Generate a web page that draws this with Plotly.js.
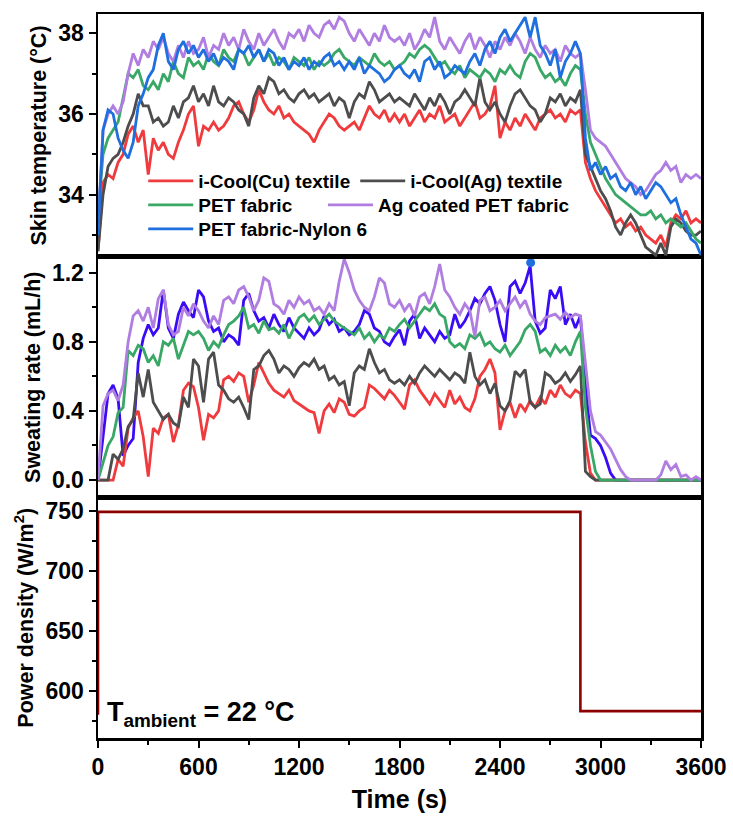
<!DOCTYPE html>
<html>
<head>
<meta charset="utf-8">
<script src="https://cdn.plot.ly/plotly-3.0.1.min.js"></script>
<style>html,body{margin:0;padding:0;background:#fff;}</style>
</head>
<body>
<div id="chart" style="width:733px;height:820px;"></div>
<script>
const TIME = [
0,30,60,90,120,150,180,210,240,270,
300,330,360,390,420,450,480,510,540,570,
600,630,660,690,720,750,780,810,840,870,
900,930,960,990,1020,1050,1080,1110,1140,1170,
1200,1230,1260,1290,1320,1350,1380,1410,1440,1470,
1500,1530,1560,1590,1620,1650,1680,1710,1740,1770,
1800,1830,1860,1890,1920,1950,1980,2010,2040,2070,
2100,2130,2160,2190,2220,2250,2280,2310,2340,2370,
2400,2430,2460,2490,2520,2550,2580,2610,2640,2670,
2700,2730,2760,2790,2820,2850,2880,2910,2940,2970,
3000,3030,3060,3090,3120,3150,3180,3210,3240,3270,
3300,3330,3360,3390,3420,3450,3480,3510,3540,3570,
3600];

const SERIES_NAMES = ['i-Cool(Cu) textile','i-Cool(Ag) textile','PET fabric','Ag coated PET fabric','PET fabric-Nylon 6'];

// Skin temperature (°C)
const SKIN_CU = [
32.6,34.3,34.5,34.4,34.8,35.0,35.5,35.7,35.3,35.6,
34.5,35.4,35.1,35.3,35.0,34.9,35.3,35.6,36.0,36.2,
35.2,35.7,35.6,35.8,35.6,35.7,35.9,36.2,36.3,36.0,
35.8,36.1,36.6,36.3,36.1,36.0,36.2,35.9,36.0,35.8,
35.7,35.6,35.5,35.3,35.6,35.8,36.0,35.9,35.7,35.6,
35.7,35.8,35.6,35.9,36.2,36.0,35.9,36.1,35.8,36.0,
35.8,36.0,35.7,35.9,36.1,35.8,36.0,35.9,36.2,35.8,
35.9,36.0,35.7,35.9,36.1,36.3,35.9,36.0,36.2,36.7,
35.4,35.8,35.6,35.9,35.7,36.0,35.8,35.6,35.9,36.0,
36.1,35.9,36.0,35.8,36.1,36.0,36.1,34.8,34.4,34.1,
33.9,33.7,33.5,33.3,33.4,33.2,33.3,33.1,33.2,33.0,
32.9,32.8,33.0,32.7,33.3,33.5,33.4,33.6,33.3,33.4,
33.3];
const SKIN_AG = [
32.6,34.0,34.7,34.9,35.0,35.3,35.7,36.0,36.5,36.2,
36.2,35.8,35.9,35.7,35.8,36.2,35.9,36.3,36.4,36.7,
36.3,36.5,36.2,36.7,36.3,36.2,36.4,36.3,36.1,36.0,
35.7,36.4,36.7,36.5,36.9,36.8,36.5,36.6,36.4,36.3,
36.5,36.6,36.4,36.5,36.3,36.4,36.5,36.2,36.4,36.3,
35.9,36.3,36.5,36.4,36.8,36.6,36.3,36.4,36.5,36.3,
36.4,36.3,36.2,36.5,36.3,36.1,36.4,36.2,36.5,36.3,
36.0,36.3,36.4,36.6,36.4,36.2,36.9,36.3,36.1,36.3,
36.0,35.8,36.2,36.5,36.6,36.4,36.2,36.1,35.8,36.0,
36.4,36.3,36.5,36.2,36.4,36.3,36.6,35.0,34.7,34.4,
34.1,33.9,33.6,33.2,33.0,33.3,33.5,33.3,33.0,32.7,
32.6,32.5,32.8,32.5,33.2,33.4,33.3,33.1,33.0,33.0,
33.1];
const SKIN_PET = [
33.5,35.0,35.4,35.6,35.8,36.4,37.0,36.9,37.1,36.7,
36.6,36.8,36.6,37.0,36.8,37.3,37.0,36.9,37.4,37.2,
37.3,37.1,37.5,37.3,37.2,37.6,37.4,37.3,37.6,37.5,
37.2,37.4,37.6,37.3,37.5,37.2,37.4,37.3,37.1,37.4,
37.3,37.2,37.4,37.1,37.3,37.2,37.3,37.5,37.6,37.4,
37.3,37.2,37.4,37.3,37.2,37.5,37.3,37.2,37.3,37.1,
37.2,37.3,37.5,37.4,37.6,37.7,37.6,37.4,37.2,37.3,
37.1,37.0,37.2,36.9,37.1,37.0,36.9,37.1,37.0,36.8,
37.1,37.0,37.2,37.0,36.9,37.3,37.5,37.4,37.1,36.9,
37.0,36.8,36.9,36.7,37.0,37.2,37.1,36.0,35.3,35.0,
34.7,34.4,34.2,34.0,33.9,33.8,33.7,33.6,33.5,33.5,
33.6,33.4,33.5,33.3,33.4,33.3,33.2,33.3,33.1,32.9,
32.8];
const SKIN_AGPET = [
33.2,35.6,36.0,36.2,36.0,36.3,37.0,37.5,37.2,37.6,
37.4,37.8,37.6,37.9,37.5,37.3,37.7,37.4,37.8,37.5,
37.6,37.9,37.4,37.7,37.6,38.0,37.7,37.9,37.6,38.1,
37.8,37.6,38.0,37.7,37.9,38.1,37.8,37.6,38.0,37.9,
38.1,37.8,38.2,38.0,37.9,38.2,38.3,38.1,38.4,38.3,
38.0,37.8,38.1,37.9,37.7,38.0,37.8,38.2,37.9,37.8,
37.9,37.7,38.0,37.6,37.8,38.1,37.9,38.4,37.8,37.6,
37.9,37.7,37.5,37.8,38.0,37.6,37.9,37.7,37.4,37.8,
37.6,37.9,37.7,38.0,37.8,37.5,37.9,37.6,37.4,37.7,
37.5,37.6,37.3,37.7,37.5,37.4,37.5,36.6,35.6,35.4,
35.3,35.2,35.0,34.8,34.6,34.4,34.3,34.2,34.0,34.1,
34.3,34.5,34.6,34.8,34.6,34.7,34.3,34.5,34.4,34.5,
34.4];
const SKIN_NYLON = [
33.0,35.6,36.1,36.0,35.4,35.1,34.9,35.3,36.2,36.5,
36.9,37.1,37.7,38.0,37.3,37.1,37.6,37.8,37.5,37.7,
37.4,37.6,37.3,37.5,37.2,37.4,37.3,37.1,37.6,37.5,
37.7,37.4,37.6,37.3,37.6,37.5,37.2,37.4,37.1,37.3,
37.2,37.4,37.1,37.3,37.2,37.4,37.5,37.2,37.3,37.1,
37.3,37.1,37.4,37.0,37.2,37.1,37.0,36.8,36.9,37.1,
37.2,37.0,36.9,37.1,36.8,37.3,37.4,37.1,37.3,36.9,
37.0,37.2,37.1,37.0,37.3,37.5,37.2,37.6,37.8,37.5,
37.9,38.1,37.8,38.0,38.2,38.4,37.9,38.4,37.7,37.5,
37.2,37.6,36.9,37.3,37.5,37.8,37.5,35.4,34.6,34.8,
34.5,34.7,34.4,34.5,34.2,34.1,34.3,34.0,34.2,33.9,
34.1,34.3,34.2,34.0,33.8,33.9,33.5,33.2,32.9,32.8,
32.5];

// Sweating rate (mL/h)
const SWEAT_CU = [
0.00,0.00,0.00,0.00,0.12,0.08,0.30,0.36,0.40,0.25,
0.02,0.30,0.27,0.36,0.38,0.22,0.32,0.52,0.56,0.54,
0.42,0.23,0.38,0.36,0.40,0.58,0.60,0.57,0.62,0.60,
0.45,0.55,0.68,0.62,0.56,0.52,0.50,0.48,0.52,0.46,
0.44,0.42,0.40,0.39,0.27,0.40,0.44,0.39,0.47,0.45,
0.38,0.37,0.40,0.42,0.55,0.53,0.50,0.47,0.52,0.49,
0.45,0.41,0.55,0.58,0.52,0.48,0.44,0.50,0.46,0.42,
0.52,0.44,0.48,0.42,0.40,0.47,0.60,0.64,0.70,0.62,
0.29,0.40,0.45,0.36,0.44,0.40,0.46,0.42,0.48,0.44,
0.52,0.48,0.55,0.50,0.48,0.52,0.50,0.22,0.04,0.00,
0.00,0.00,0.00,0.00,0.00,0.00,0.00,0.00,0.00,0.00,
0.00,0.00,0.00,0.00,0.00,0.00,0.00,0.00,0.00,0.00,
0.00];
const SWEAT_AG = [
0.00,0.00,0.00,0.15,0.12,0.18,0.31,0.35,0.62,0.48,
0.64,0.45,0.40,0.35,0.38,0.33,0.31,0.48,0.42,0.70,
0.66,0.45,0.70,0.74,0.55,0.52,0.47,0.45,0.48,0.42,
0.35,0.64,0.66,0.72,0.75,0.70,0.62,0.66,0.64,0.60,
0.65,0.68,0.66,0.70,0.64,0.66,0.58,0.60,0.55,0.57,
0.43,0.62,0.66,0.64,0.76,0.68,0.62,0.64,0.58,0.56,
0.58,0.55,0.60,0.56,0.62,0.66,0.63,0.60,0.64,0.61,
0.58,0.62,0.60,0.56,0.74,0.60,0.55,0.58,0.50,0.56,
0.43,0.40,0.46,0.63,0.60,0.64,0.45,0.42,0.44,0.62,
0.60,0.56,0.58,0.62,0.57,0.61,0.66,0.05,0.02,0.00,
0.00,0.00,0.00,0.00,0.00,0.00,0.00,0.00,0.00,0.00,
0.00,0.00,0.00,0.00,0.00,0.00,0.00,0.00,0.00,0.00,
0.00];
const SWEAT_PET = [
0.00,0.10,0.20,0.25,0.39,0.42,0.75,0.72,0.78,0.76,
0.68,0.72,0.66,0.80,0.78,0.82,0.70,0.78,0.86,0.84,
0.86,0.82,0.75,0.80,0.77,0.84,0.90,0.92,0.95,1.00,
0.88,0.90,0.85,0.92,0.87,0.88,0.85,0.90,0.82,0.88,
0.94,0.96,0.92,0.95,0.90,0.93,0.96,0.92,0.90,0.88,
0.86,0.84,0.88,0.82,0.85,0.80,0.84,0.82,0.88,0.86,
0.90,0.93,0.88,0.92,0.96,1.00,0.98,1.02,0.96,0.94,
0.80,0.77,0.79,0.76,0.84,0.82,0.85,0.78,0.80,0.76,
0.74,0.78,0.72,0.76,0.80,0.87,0.90,0.86,0.74,0.76,
0.72,0.78,0.74,0.77,0.72,0.80,0.86,0.42,0.20,0.05,
0.00,0.00,0.00,0.00,0.00,0.00,0.00,0.00,0.00,0.00,
0.00,0.00,0.00,0.00,0.00,0.00,0.00,0.00,0.00,0.00,
0.00];
const SWEAT_AGPET = [
0.00,0.43,0.50,0.52,0.46,0.55,0.80,0.95,0.98,0.92,
1.00,0.88,1.05,1.10,0.90,0.84,0.86,1.00,0.95,1.02,
0.98,0.92,0.88,0.95,0.90,1.04,1.06,1.02,1.10,1.12,
1.06,0.98,1.04,1.17,1.15,1.02,1.00,0.96,1.04,1.00,
1.06,1.02,1.04,0.98,1.00,0.96,1.02,0.98,1.15,1.28,
1.20,1.10,1.04,1.00,0.98,1.06,1.17,1.14,1.02,1.00,
1.04,0.98,1.02,0.95,1.06,1.08,1.02,1.12,1.25,1.10,
1.06,1.00,0.96,1.02,0.98,0.83,1.04,1.06,0.98,1.00,
1.04,0.98,1.02,1.06,1.00,1.04,0.96,0.92,0.90,0.94,
0.95,0.96,0.93,0.97,0.94,0.96,0.95,0.66,0.40,0.28,
0.26,0.22,0.18,0.12,0.06,0.02,0.00,0.00,0.00,0.00,
0.00,0.00,0.03,0.11,0.06,0.09,0.02,0.03,0.00,0.02,
0.00];
const SWEAT_NYLON = [
0.00,0.25,0.50,0.55,0.47,0.14,0.20,0.24,0.68,0.82,
0.90,0.84,0.88,1.10,0.88,0.82,0.96,1.03,0.98,0.94,
1.10,1.06,0.92,0.86,0.88,0.80,0.84,0.82,0.78,1.04,
1.08,0.98,0.92,0.94,0.88,0.96,0.90,0.86,0.94,0.88,
0.85,0.82,0.88,0.84,0.87,0.95,0.90,0.93,0.86,0.88,
0.84,0.86,0.90,0.98,0.96,0.88,0.86,0.80,0.78,0.83,
0.87,0.78,0.92,0.96,0.82,0.88,0.84,0.80,0.86,0.82,
0.84,0.96,0.88,0.92,0.98,1.05,1.02,1.08,1.12,1.04,
0.90,0.80,1.12,1.15,1.08,1.14,1.24,0.92,0.85,0.88,
1.10,1.05,1.12,0.90,0.96,0.88,0.95,0.55,0.26,0.24,
0.20,0.13,0.04,0.00,0.00,0.00,0.00,0.00,0.00,0.00,
0.00,0.00,0.00,0.00,0.00,0.00,0.00,0.00,0.00,0.00,
0.00];
const PEAK_T = [2583];
const PEAK_S = [1.258];

// Power density (W/m²)
const POWER_T = [0, 0, 2880, 2880, 3600];
const POWER_W = [580, 749, 749, 583, 583];

const C_CU = '#ef3b3e', C_AG = '#4d4d4d', C_PET = '#39a866', C_AGPET = '#b07de0', C_NY = '#1f6fde', C_NY2 = '#3a0cf5', C_PW = '#8b0000';
const FONT = 'Liberation Sans, Arial, Helvetica, sans-serif';
const LW = 2.8;

function tr(y, color, name, xa, ya, legend, show) {
  return {x: TIME, y: y, type: 'scatter', mode: 'lines', name: name,
    line: {color: color, width: LW}, xaxis: xa, yaxis: ya,
    legend: legend, showlegend: show, hoverinfo: 'skip'};
}

const data = [
  // top panel: skin temperature
  tr(SKIN_CU, C_CU, SERIES_NAMES[0], 'x3', 'y3', 'legend', true),
  tr(SKIN_AG, C_AG, SERIES_NAMES[1], 'x3', 'y3', 'legend', true),
  tr(SKIN_PET, C_PET, SERIES_NAMES[2], 'x3', 'y3', 'legend2', true),
  tr(SKIN_AGPET, C_AGPET, SERIES_NAMES[3], 'x3', 'y3', 'legend4', true),
  tr(SKIN_NYLON, C_NY, SERIES_NAMES[4], 'x3', 'y3', 'legend3', true),
  // middle panel: sweating rate
  tr(SWEAT_NYLON, C_NY2, SERIES_NAMES[4], 'x2', 'y2', 'legend', false),
  tr(SWEAT_CU, C_CU, SERIES_NAMES[0], 'x2', 'y2', 'legend', false),
  tr(SWEAT_AG, C_AG, SERIES_NAMES[1], 'x2', 'y2', 'legend', false),
  tr(SWEAT_PET, C_PET, SERIES_NAMES[2], 'x2', 'y2', 'legend', false),
  tr(SWEAT_AGPET, C_AGPET, SERIES_NAMES[3], 'x2', 'y2', 'legend', false),
  {x: PEAK_T, y: PEAK_S, type: 'scatter', mode: 'markers', xaxis: 'x2', yaxis: 'y2',
   marker: {color: C_NY, size: 9}, showlegend: false, hoverinfo: 'skip'},
  // bottom panel: power density
  {x: POWER_T, y: POWER_W, type: 'scatter', mode: 'lines', xaxis: 'x', yaxis: 'y',
   line: {color: C_PW, width: 2.6}, showlegend: false, hoverinfo: 'skip'}
];

const axBase = {
  showline: true, linecolor: '#000', linewidth: 2.5, mirror: true,
  showgrid: false, zeroline: false,
  ticks: 'outside', ticklen: 7, tickwidth: 2, tickcolor: '#000',
  tickfont: {family: FONT, size: 23, color: '#000', weight: 700}
};
const xTop = Object.assign({}, axBase, {range: [0, 3600], matches: 'x', showticklabels: false, ticks: ''});

const legBase = {
  orientation: 'h', xref: 'paper', yref: 'paper', xanchor: 'left', yanchor: 'middle',
  bgcolor: 'rgba(0,0,0,0)', borderwidth: 0, itemwidth: 45, tracegroupgap: 0,
  font: {family: FONT, size: 19, color: '#000', weight: 700}
};

const layout = {
  width: 733, height: 820,
  margin: {l: 98, r: 32, t: 14, b: 82, pad: 0},
  paper_bgcolor: '#fff', plot_bgcolor: '#fff',
  font: {family: FONT, size: 22, color: '#000', weight: 700},
  showlegend: true,
  xaxis: Object.assign({}, axBase, {
    anchor: 'y', range: [0, 3600], tick0: 0, dtick: 600, mirror: true,
    minor: {dtick: 300, ticks: 'outside', ticklen: 4, tickwidth: 2, tickcolor: '#000'},
    title: {text: 'Time (s)', font: {family: FONT, size: 25, color: '#000', weight: 700}, standoff: 12}
  }),
  xaxis2: Object.assign({}, xTop, {anchor: 'y2'}),
  xaxis3: Object.assign({}, xTop, {anchor: 'y3'}),
  yaxis: Object.assign({}, axBase, {
    domain: [0, 0.3322], range: [560.6, 761], tick0: 600, dtick: 50,
    minor: {dtick: 25, ticks: 'outside', ticklen: 4, tickwidth: 2, tickcolor: '#000'},
    title: {text: 'Power density (W/m<sup>2</sup>)', font: {family: FONT, size: 21.5, color: '#000', weight: 700}, standoff: 6}
  }),
  yaxis2: Object.assign({}, axBase, {
    domain: [0.3322, 0.6644], range: [-0.101, 1.291], tick0: 0, dtick: 0.4, tickformat: '.1f',
    minor: {dtick: 0.2, ticks: 'outside', ticklen: 4, tickwidth: 2, tickcolor: '#000'},
    title: {text: 'Sweating rate (mL/h)', font: {family: FONT, size: 21.5, color: '#000', weight: 700}, standoff: 6}
  }),
  yaxis3: Object.assign({}, axBase, {
    domain: [0.6644, 1], range: [32.456, 38.478], tick0: 0, dtick: 2,
    minor: {dtick: 1, ticks: 'outside', ticklen: 4, tickwidth: 2, tickcolor: '#000'},
    title: {text: 'Skin temperature (°C)', font: {family: FONT, size: 21.5, color: '#000', weight: 700}, standoff: 6}
  }),
  legend: Object.assign({}, legBase, {x: 0.075, y: 0.7693}),
  legend2: Object.assign({}, legBase, {x: 0.075, y: 0.7362}),
  legend4: Object.assign({}, legBase, {x: 0.3731, y: 0.7362}),
  legend3: Object.assign({}, legBase, {x: 0.075, y: 0.703}),
  annotations: [{
    text: 'T<sub>ambient</sub> = 22 °C', xref: 'paper', yref: 'paper',
    x: 0.012, y: 0.033, xanchor: 'left', yanchor: 'middle', showarrow: false,
    font: {family: FONT, size: 27, color: '#000', weight: 700}
  }]
};

Plotly.newPlot('chart', data, layout, {displayModeBar: false, staticPlot: true});
</script>
</body>
</html>
